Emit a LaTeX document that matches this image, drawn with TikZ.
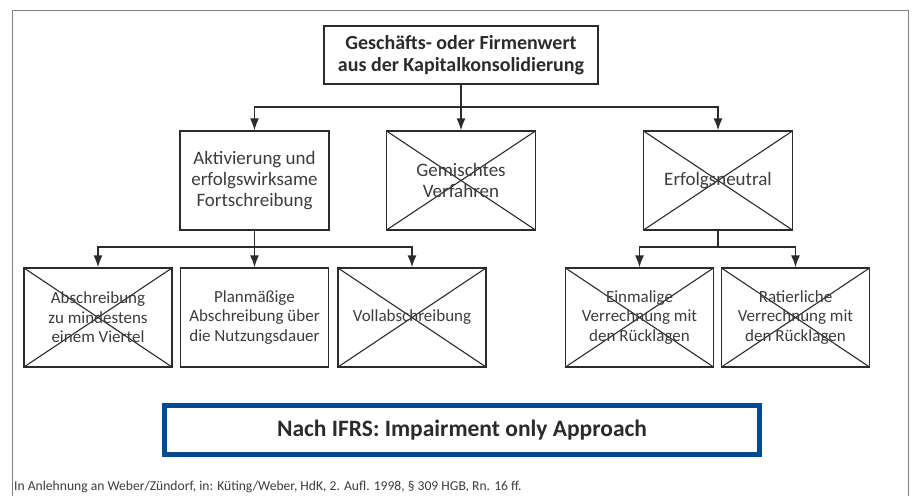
\documentclass[tikz,border=0pt]{standalone}
\usepackage{fontspec}
\setmainfont{Carlito}
\usetikzlibrary{positioning, arrows.meta}
\definecolor{framegray}{HTML}{808080}
\definecolor{ink}{HTML}{2B2B2B}
\definecolor{txt}{HTML}{3C3C3C}
\definecolor{ifrsblue}{HTML}{004A93}

\begin{document}
\begin{tikzpicture}[x=1pt, y=-1pt,
  box/.style = {draw=ink, line width=1.2pt, minimum width=148pt, minimum height=99pt, inner sep=2pt, align=center, text=txt, font=\fontsize{17}{19.5}\selectfont},
  crossed/.style = {box, path picture={\draw[ink, line width=1.1pt] (path picture bounding box.north west) -- (path picture bounding box.south east) (path picture bounding box.south west) -- (path picture bounding box.north east);}},
  link/.style = {draw=ink, line width=1.6pt},
  arr/.style = {link, -{Latex[length=12pt,width=9pt]}},
  node distance=156pt]
\useasboundingbox (0,0) rectangle (914,496);
\draw[framegray, line width=1pt] (12.5,496) -- (12.5,10.5) -- (908,10.5) -- (908,496);

% top level
\node[box, minimum width=274pt, minimum height=58pt, text=ink, font=\bfseries\fontsize{20}{22.5}\selectfont] (gfw) at (461,55) {Geschäfts- oder Firmenwert\\aus der Kapitalkonsolidierung};

% second level
\node[box, minimum width=149pt, font=\fontsize{19}{21}\selectfont] (akt) at (254.5,180.5) {Aktivierung und\\erfolgswirksame\\Fortschreibung};
\node[crossed, minimum width=149pt, font=\fontsize{19}{21}\selectfont] (gem) at (461,180.5) {Gemischtes\\Verfahren};
\node[crossed, minimum width=149pt, font=\fontsize{19}{21}\selectfont] (neu) at (718,180.5) {Erfolgsneutral};

% third level
\node[crossed] (abs) at (98,317.5) {Abschreibung\\zu mindestens\\einem Viertel};
\node[box] (plan) at (254.5,317.5) {Planmäßige\\Abschreibung über\\die Nutzungsdauer};
\node[crossed] (voll) at (412,317.5) {Vollabschreibung};
\node[crossed] (einm) at (639.5,317.5) {Einmalige\\Verrechnung mit\\den Rücklagen};
\node[crossed] (rat) [right of=einm] {Ratierliche\\Verrechnung mit\\den Rücklagen};

\coordinate (split1) at (461,107);
\coordinate (split2) at (254.5,247);
\coordinate (split3) at (718,247);

\path[link] (gfw.south) -- (split1);
\path[arr] (split1) -| (akt.north);
\path[arr] (split1) -- (gem.north);
\path[arr] (split1) -| (neu.north);

\path[link] (akt.south) -- (split2);
\path[arr] (split2) -| (abs.north);
\path[arr] (split2) -- (plan.north);
\path[arr] (split2) -| (voll.north);

\path[link] (neu.south) -- (split3);
\path[arr] (split3) -| (einm.north);
\path[arr] (split3) -| (rat.north);

% IFRS note and source
\node[draw=ifrsblue, line width=5pt, minimum width=595pt, minimum height=49pt, text=ink, font=\bfseries\fontsize{23.5}{26}\selectfont] (ifrs) at (462,430) {Nach IFRS: Impairment only Approach};
\node[anchor=base west, inner sep=0pt, text=txt, font=\fontsize{13.6}{15}\selectfont] (src) at (14,490) {In Anlehnung an Weber/Zündorf, in: Küting/Weber, HdK, 2. Aufl. 1998, § 309 HGB, Rn. 16 ff.};
\end{tikzpicture}
\end{document}
